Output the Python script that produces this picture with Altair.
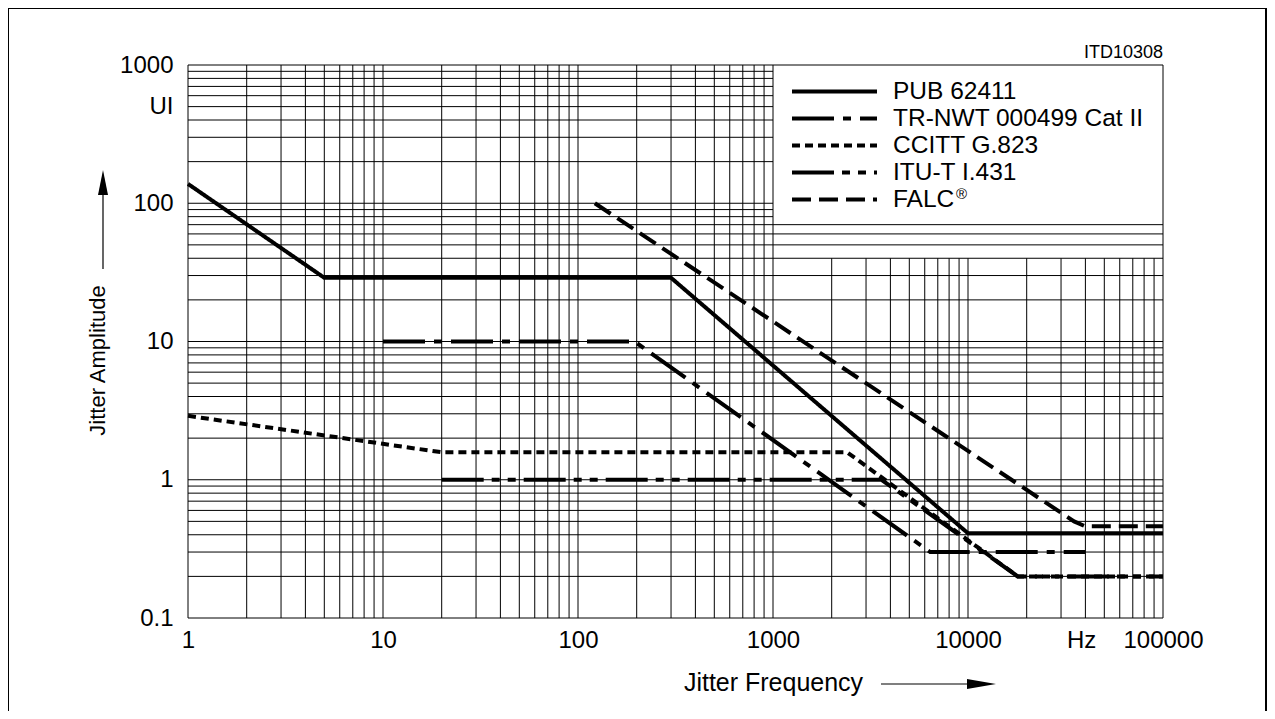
import altair as alt
import pandas as pd

# ---------------- data ----------------
series = ["PUB 62411", "TR-NWT 000499 Cat II", "CCITT G.823", "ITU-T I.431", "FALC®"]

pub_f = [1, 5, 300, 10000, 100000]
pub_a = [138, 28.9, 28.9, 0.41, 0.41]

tr_f = [10, 195, 6400, 40000]
tr_a = [10, 10, 0.3, 0.3]

ccitt_f = [1, 20, 2400, 18000, 100000]
ccitt_a = [2.9, 1.58, 1.58, 0.2, 0.2]

itu_f = [20, 3600, 18000, 100000]
itu_a = [1.0, 1.0, 0.2, 0.2]

falc_f = [122, 35000, 40000, 100000]
falc_a = [100, 0.5, 0.46, 0.46]

x_tick_values = [1, 10, 100, 1000, 10000, 38000, 100000]
x_unit_value = 38000
x_unit_label = "Hz"
y_tick_values = [0.1, 1, 10, 100, 500, 1000]
y_unit_value = 500
y_unit_label = "UI"

x_title = "Jitter Frequency"
y_title = "Jitter Amplitude"
code_label = ["ITD10308"]
reg_mark = ["®"]

# ---------------- styles ----------------
FONT = "Liberation Sans, Arial, Helvetica, sans-serif"
dashes = [[1, 0], [42, 9, 8, 9], [8, 5], [42, 8, 8, 8, 8, 8], [19, 8]]

# ---------------- tables ----------------
rows = []
for name, fs, amps in zip(series, [pub_f, tr_f, ccitt_f, itu_f, falc_f],
                          [pub_a, tr_a, ccitt_a, itu_a, falc_a]):
    for i, (f, a) in enumerate(zip(fs, amps)):
        rows.append({"series": name, "f": f, "a": a, "idx": i})
lines_df = pd.DataFrame(rows)

decades_x = [1, 10, 100, 1000, 10000]
decades_y = [0.1, 1, 10, 100]
x_grid = [round(m * d, 6) for d in decades_x for m in range(1, 10)] + [100000]
y_grid = [round(m * d, 6) for d in decades_y for m in range(1, 10)] + [1000]

vgrid = pd.DataFrame({
    "gx": x_grid,
    "gy1": [0.1] * len(x_grid),
    "gy2": [1000 if (v <= 1000 or v == 100000) else 40 for v in x_grid],
})
hgrid = pd.DataFrame({
    "hy": y_grid,
    "hx1": [1] * len(y_grid),
    "hx2": [100000 if (v <= 70 or v == 1000) else 1000 for v in y_grid],
})

xs = alt.Scale(type="log", domain=[1, 100000], nice=False)
ys = alt.Scale(type="log", domain=[0.1, 1000], nice=False)

x_axis = alt.Axis(
    values=x_tick_values, format="~g",
    labelExpr=f"datum.value == {x_unit_value} ? '{x_unit_label}' : datum.label",
    grid=False, domain=False, ticks=False, tickSize=0, labelPadding=10,
    labelFont=FONT, labelFontSize=24, labelColor="black", labelOverlap=False,
    labelFlush=False,
    title=x_title, titleFont=FONT, titleFontSize=25, titleFontWeight="normal",
    titleColor="black", titleX=585, titleY=72, titleBaseline="alphabetic",
    titleAlign="center",
)
y_axis = alt.Axis(
    values=y_tick_values, format="~g",
    labelExpr=f"datum.value == {y_unit_value} ? '{y_unit_label}' : datum.label",
    grid=False, domain=False, ticks=False, tickSize=0, labelPadding=15,
    labelFont=FONT, labelFontSize=24, labelColor="black", labelOverlap=False,
    labelFlush=False, labelBaseline="middle",
    title=y_title, titleFont=FONT, titleFontSize=22, titleFontWeight="normal",
    titleColor="black", titleX=-84, titleY=295, titleAngle=270,
    titleBaseline="alphabetic", titleAlign="center",
)

vrules = alt.Chart(vgrid).mark_rule(color="black", strokeWidth=1).encode(
    x=alt.X("gx:Q", scale=xs, axis=x_axis),
    y=alt.Y("gy1:Q", scale=ys, axis=y_axis),
    y2="gy2:Q",
)
hrules = alt.Chart(hgrid).mark_rule(color="black", strokeWidth=1).encode(
    y=alt.Y("hy:Q", scale=ys, axis=y_axis),
    x=alt.X("hx1:Q", scale=xs, axis=x_axis),
    x2="hx2:Q",
)

lines = alt.Chart(lines_df).mark_line(
    color="black", strokeWidth=4, strokeCap="butt", strokeJoin="miter"
).encode(
    x=alt.X("f:Q", scale=xs, axis=x_axis),
    y=alt.Y("a:Q", scale=ys, axis=y_axis),
    strokeDash=alt.StrokeDash(
        "series:N",
        scale=alt.Scale(domain=series, range=dashes),
        sort=series,
        legend=alt.Legend(
            orient="none", legendX=602, legendY=13, title=None,
            symbolType="stroke", symbolSize=7225, symbolStrokeWidth=4,
            symbolStrokeColor="black", clipHeight=27, rowPadding=0, padding=0,
            labelFont=FONT, labelFontSize=24.5, labelColor="black",
            labelOffset=14, labelLimit=400, labelBaseline="middle",
            labelExpr="replace(datum.label, '®', '')",
        ),
    ),
    order="idx:Q",
)

one = pd.DataFrame({"t": code_label})
code_text = alt.Chart(one).mark_text(
    font=FONT, fontSize=18, color="black", align="right", baseline="alphabetic"
).encode(x=alt.value(975), y=alt.value(-7), text="t:N")

reg = pd.DataFrame({"t": reg_mark})
reg_text = alt.Chart(reg).mark_text(
    font=FONT, fontSize=15, color="black", align="left", baseline="middle"
).encode(x=alt.value(768), y=alt.value(129), text="t:N")

frame = alt.Chart(one).mark_rect(filled=False, stroke="black", strokeWidth=2).encode(
    x=alt.value(-180), x2=alt.value(1078), y=alt.value(-57), y2=alt.value(700)
)

y_arrow_line = alt.Chart(one).mark_rule(color="black", strokeWidth=1.2).encode(
    x=alt.value(-85), y=alt.value(125), y2=alt.value(204)
)
y_arrow_head = alt.Chart(one).mark_point(
    shape="M-0.4,1L0,-1L0.4,1Z", size=625, filled=True, color="black", opacity=1
).encode(x=alt.value(-85), y=alt.value(117.5))

x_arrow_line = alt.Chart(one).mark_rule(color="black", strokeWidth=1.2).encode(
    x=alt.value(693), x2=alt.value(782), y=alt.value(619)
)
x_arrow_head = alt.Chart(one).mark_point(
    shape="M-1,-0.34L1,0L-1,0.34Z", size=841, filled=True, color="black", opacity=1
).encode(x=alt.value(793.5), y=alt.value(619))

chart = alt.layer(
    frame, vrules, hrules, lines, code_text, reg_text,
    y_arrow_line, y_arrow_head, x_arrow_line, x_arrow_head,
).properties(
    width=975, height=553,
    autosize=alt.AutoSizeParams(type="none"),
    padding={"left": 180, "top": 57, "right": 104, "bottom": 93},
    background="white",
).configure_view(stroke=None)

chart.save("out.html", embed_options={"renderer": "svg", "actions": False})
